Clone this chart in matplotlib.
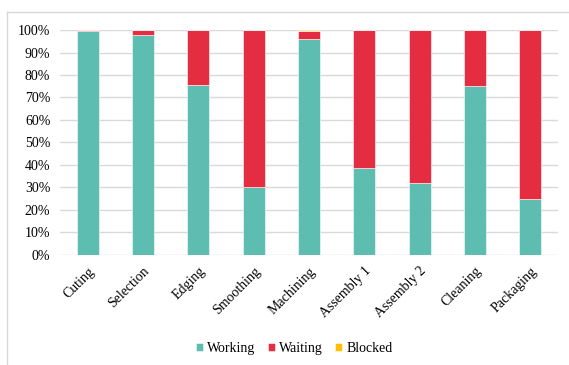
import matplotlib.pyplot as plt
import numpy as np
from matplotlib.lines import Line2D

# Share of time each station spends in each state (%)
stations = ['Cuting', 'Selection', 'Edging', 'Smoothing', 'Machining',
            'Assembly 1', 'Assembly 2', 'Cleaning', 'Packaging']
working = [99.5, 97.8, 75.5, 30.0, 96.0, 38.8, 32.2, 75.2, 25.0]
waiting = [0.5, 2.2, 24.5, 70.0, 3.5, 61.2, 67.8, 24.8, 75.0]
blocked = [0.0, 0.0, 0.0, 0.0, 0.5, 0.0, 0.0, 0.0, 0.0]

colors = {'Working': '#5DBDB1', 'Waiting': '#E52D42', 'Blocked': '#FFC000'}

plt.rcParams['font.family'] = ['Liberation Serif', 'DejaVu Serif']
fs = 10

fig = plt.figure(figsize=(5.69, 3.65), dpi=100)
ax = fig.add_axes([0.1054, 0.3014, 0.8753, 0.6164])

x = np.arange(len(stations))
w = 0.4
bottom = np.zeros(len(stations))
for name, vals in [('Working', working), ('Waiting', waiting), ('Blocked', blocked)]:
    ax.bar(x, vals, w, bottom=bottom, color=colors[name], label=name,
           edgecolor='white', linewidth=0.4, zorder=3)
    bottom += np.array(vals)

ax.set_xlim(-0.5, len(stations) - 0.5)
ax.set_ylim(0, 100)
ax.set_yticks(np.arange(0, 101, 10))
ax.set_yticklabels([f'{v}%' for v in range(0, 101, 10)], fontsize=fs)
ax.set_xticks(x)
ax.set_xticklabels(stations, rotation=45, ha='right', rotation_mode='anchor',
                   fontsize=fs)
ax.tick_params(axis='both', length=0)
ax.tick_params(axis='y', pad=7)
ax.tick_params(axis='x', pad=7)
ax.grid(axis='y', color='#D9D9D9', linewidth=1.0, zorder=0)
for s in ax.spines.values():
    s.set_visible(False)

ax.legend(loc='center', bbox_to_anchor=(0.47, -0.415), ncol=3, frameon=False,
          fontsize=fs, handlelength=0.5, handleheight=0.5, handletextpad=0.3,
          columnspacing=0.9)

# light frame around the chart area
fig.add_artist(Line2D([7 / 569, 7 / 569], [0, 1 - 12 / 365],
                      color='#D9D9D9', linewidth=1, transform=fig.transFigure))
fig.add_artist(Line2D([7 / 569, 1], [1 - 12 / 365, 1 - 12 / 365],
                      color='#D9D9D9', linewidth=1, transform=fig.transFigure))

fig.savefig('out.png', dpi=100)
